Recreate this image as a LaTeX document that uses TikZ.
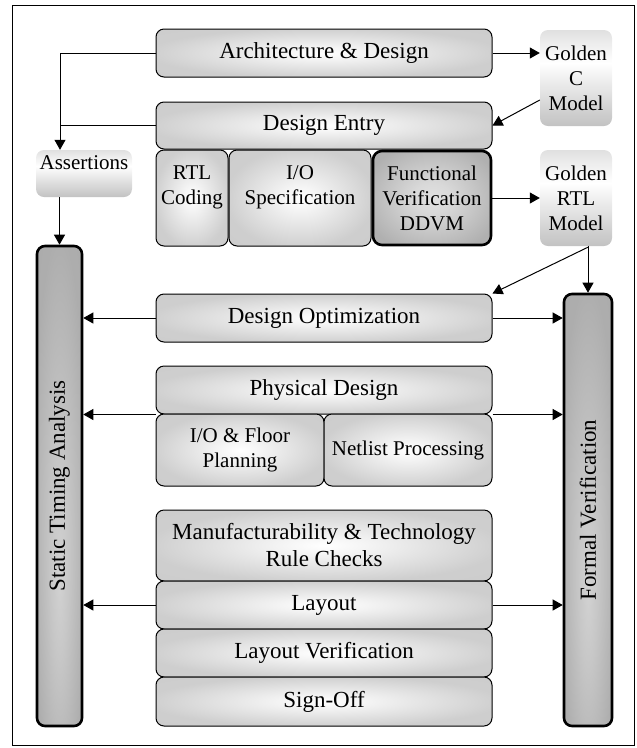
\documentclass[tikz,border=0pt]{standalone}
\usepackage{fontspec}
\setmainfont{Liberation Serif}
\usetikzlibrary{arrows.meta}

% soft white glow in the middle of each grey box
\pgfdeclareradialshading{boxglow}{\pgfpoint{0bp}{0bp}}{%
  color(0bp)=(white); color(6bp)=(white!96!black); color(26bp)=(black!19);
  color(50bp)=(black!21)}
\pgfdeclareradialshading{darkglow}{\pgfpoint{0bp}{0bp}}{%
  color(0bp)=(black!12); color(8bp)=(black!15); color(30bp)=(black!31);
  color(50bp)=(black!33)}
\pgfdeclareradialshading{barglow}{\pgfpoint{0bp}{-10bp}}{%
  color(0bp)=(black!18); color(10bp)=(black!22); color(30bp)=(black!32);
  color(50bp)=(black!34)}
% vertical fade used by the borderless side boxes
\pgfdeclareverticalshading{sidefade}{100bp}{%
  color(0bp)=(black!24); color(25bp)=(black!24); color(58bp)=(white);
  color(75bp)=(black!12); color(100bp)=(black!12)}

\tikzset{
  big/.style={font=\fontsize{23}{27}\selectfont},
  small/.style={font=\fontsize{21}{25}\selectfont},
  stagebox/.style={draw=black, line width=1pt, rounded corners=8pt,
    shading=boxglow, inner sep=0pt, align=center, big},
  subbox/.style={stagebox, small},
  heavybox/.style={draw=black, line width=2.6pt, rounded corners=9pt,
    shading=darkglow, inner sep=0pt, align=center, small},
  barbox/.style={draw=black, line width=2.6pt, rounded corners=8pt,
    shading=barglow, inner sep=0pt, big},
  sidebox/.style={rounded corners=8pt, shading=sidefade, inner sep=0pt,
    align=center, small},
  conn/.style={line width=1pt, draw=black},
  arr/.style={conn, -{Triangle[length=10pt,width=11pt]}},
}

\begin{document}
\begin{tikzpicture}[x=1pt,y=-1pt]
\useasboundingbox (0,0) rectangle (637,748);
% outer frame
\draw[line width=0.9pt] (12,5) rectangle (634,745);

% main flow stages
\node[stagebox, minimum width=336pt, minimum height=48pt] (arch) at (324,53) {Architecture \& Design};
\node[stagebox, minimum width=336pt, minimum height=47pt] (entry) at (324,125.5) {Design Entry};
\node[subbox, minimum width=72pt, minimum height=96pt] (rtl) at (192,198) {RTL\\Coding\\\mbox{}};
\node[subbox, minimum width=142pt, minimum height=96pt] (iospec) at (300,198) {I/O\\Specification\\\mbox{}};
\node[heavybox, minimum width=118pt, minimum height=94pt] (fv) at (432,198) {Functional\\Verification\\DDVM};

\node[stagebox, minimum width=336pt, minimum height=48pt] (opt) at (324,318) {Design Optimization};
\node[stagebox, minimum width=336pt, minimum height=48pt] (phys) at (324,390) {Physical Design};
\node[subbox, minimum width=168pt, minimum height=72pt] (floor) at (240,450) {I/O \& Floor\\Planning};
\node[subbox, minimum width=168pt, minimum height=72pt] (netlist) at (408,450) {Netlist Processing};

\node[stagebox, minimum width=336pt, minimum height=71pt] (mfg) at (324,545.5) {Manufacturability \& Technology\\Rule Checks};
\node[stagebox, minimum width=336pt, minimum height=48pt] (layout) at (324,605) {Layout};
\node[stagebox, minimum width=336pt, minimum height=48pt] (lver) at (324,653) {Layout Verification};
\node[stagebox, minimum width=336pt, minimum height=49pt] (sign) at (324,701.5) {Sign-Off};

% reference models and assertions
\node[sidebox, minimum width=72pt, minimum height=96pt] (goldc) at (576,78) {Golden\\C\\Model};
\node[sidebox, minimum width=72pt, minimum height=96pt] (goldrtl) at (576,198) {Golden\\RTL\\Model};
\node[sidebox, minimum width=96pt, minimum height=47pt] (assert) at (84,173.5) {Assertions\\[-4pt]\mbox{}};

% verification bars, with text running upwards
\node[barbox, minimum width=45pt, minimum height=480pt] (sta) at (59.5,486) {\rotatebox{90}{Static Timing Analysis}};
\node[barbox, minimum width=48pt, minimum height=432pt] (formal) at (588,510) {\rotatebox{90}{Formal Verification}};

% connectors at the top
\draw[arr] (arch.west) -| ([xshift=-24pt]assert.north);
\draw[conn] (entry.west) -- ([xshift=-24pt]assert.north |- entry.west);
\draw[arr] (sta.north |- assert.south) -- (sta.north);
\draw[arr] (arch.east) -- (arch.east -| goldc.west);
\draw[arr] ([yshift=-22pt]goldc.west) -- (entry.east);
\draw[arr] (fv.east) -- (fv.east -| goldrtl.west);
\draw[arr] (goldrtl.south -| formal.north) -- (formal.north);
\draw[arr] ([yshift=-1pt]goldrtl.south -| formal.north) -- (opt.north east);

% side connectors
\draw[arr] (opt.west) -- (opt.west -| sta.east);
\draw[arr] (opt.east) -- (opt.east -| formal.west);
\draw[arr] (phys.south west) -- (phys.south west -| sta.east);
\draw[arr] (phys.south east) -- (phys.south east -| formal.west);
\draw[arr] (layout.west) -- (layout.west -| sta.east);
\draw[arr] (layout.east) -- (layout.east -| formal.west);
\end{tikzpicture}
\end{document}
